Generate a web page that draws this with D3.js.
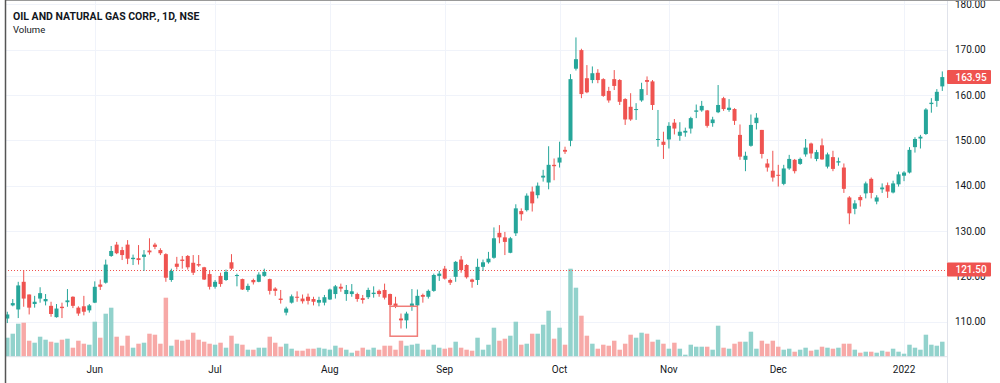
<!DOCTYPE html>
<html><head><meta charset="utf-8">
<script src="https://cdn.jsdelivr.net/npm/d3@7"></script>
<style>html,body{margin:0;padding:0;background:#fff;} svg{display:block;}</style>
</head><body>
<svg id="c" width="1000" height="383"></svg>
<script>
// ---- data (ONGC, daily, NSE) ----
const opens = [110.7,113.6,112.7,118.8,116.0,113.9,115.1,114.5,113.5,111.0,
113.3,114.3,115.5,113.1,113.4,112.5,114.2,118.2,118.6,124.5,
127.0,125.8,127.0,123.8,124.0,124.3,125.7,127.0,125.8,124.9,
119.2,122.8,123.7,124.5,123.0,122.7,122.0,120.5,117.7,120.1,
119.2,123.1,120.1,119.4,117.0,119.2,118.8,120.1,119.4,117.3,
115.1,112.0,114.2,115.5,115.1,115.5,115.0,114.2,114.2,114.9,
116.1,117.7,116.1,116.1,116.1,115.2,115.4,116.1,116.8,117.0,
116.1,114.0,110.7,110.3,113.4,113.6,115.9,115.5,116.8,120.1,
121.7,119.2,119.9,123.7,122.5,119.3,119.2,122.1,123.1,124.1,
129.6,128.6,125.2,129.5,134.4,134.6,138.7,137.9,141.8,140.7,
144.6,145.1,147.9,149.9,165.8,169.9,163.7,163.3,164.9,163.5,
160.9,163.5,163.3,159.1,157.4,156.7,158.8,163.3,163.0,150.1,
149.7,150.2,153.9,151.0,151.7,152.6,156.3,156.6,156.6,153.8,
156.2,159.3,156.7,156.9,151.2,145.7,148.8,153.8,152.3,144.9,
143.3,142.4,140.4,143.8,145.7,144.8,146.9,149.3,145.9,148.9,
144.2,146.3,145.1,144.0,137.4,134.9,137.5,138.3,141.5,136.5,
139.2,140.1,138.5,140.3,142.2,142.9,148.5,150.4,151.4,158.0,
158.7,161.9];
const highs = [112.2,115.0,118.8,121.4,116.0,115.7,117.6,116.1,114.4,113.9,
114.2,117.2,115.6,113.4,115.7,113.9,118.9,119.3,123.7,126.7,
127.6,126.5,128.0,124.8,126.9,125.8,128.4,127.4,126.2,125.1,
121.7,124.3,124.5,124.7,124.7,124.7,122.1,121.4,119.2,120.8,
121.5,124.9,120.6,119.5,118.4,119.5,120.9,121.7,119.5,117.6,
117.0,113.3,116.0,116.7,116.0,116.2,115.5,115.5,115.9,117.3,
118.1,118.4,118.1,118.3,116.4,115.9,117.5,117.8,117.1,118.4,
116.2,115.5,111.8,112.2,117.2,117.1,116.2,117.1,120.6,121.2,
122.3,119.5,123.4,124.5,122.7,119.5,123.9,123.7,125.4,130.8,
131.3,129.8,128.7,135.9,135.0,138.3,139.8,140.7,143.5,148.7,
146.0,149.7,148.6,164.6,172.7,170.2,166.6,166.3,165.7,163.7,
161.8,165.5,163.5,159.3,160.4,158.2,162.7,164.1,163.3,156.7,
151.9,154.0,154.7,154.0,152.8,155.2,157.9,158.7,156.7,155.2,
162.2,159.6,159.1,157.1,153.5,147.5,155.7,156.0,152.3,145.9,
147.7,144.6,144.6,146.8,145.9,146.2,150.3,149.5,147.9,150.4,
147.3,147.7,146.2,144.9,137.7,136.8,137.9,140.9,141.8,137.9,
140.5,140.7,141.1,143.1,143.2,148.5,150.7,151.2,157.1,159.3,
161.3,165.2];
const lows = [109.7,113.4,110.8,113.3,111.6,113.1,114.2,113.6,111.1,110.9,
110.8,113.3,113.0,111.3,111.4,112.0,114.1,117.0,118.4,124.3,
124.9,123.6,122.7,122.5,122.6,121.2,124.8,126.0,124.7,118.8,
118.8,121.5,121.7,121.5,120.3,122.1,119.2,117.1,117.3,117.7,
119.0,121.4,117.8,117.0,116.6,118.2,118.7,119.9,116.0,115.7,
114.0,111.4,114.0,114.4,114.0,113.8,113.6,113.4,113.6,114.8,
115.1,116.6,114.6,115.5,114.4,114.0,115.0,115.3,115.5,114.9,
113.3,113.0,108.5,108.5,112.4,113.3,114.2,115.1,116.6,119.0,
119.3,118.1,118.8,120.8,119.5,117.5,118.1,121.2,122.8,123.9,
127.3,124.7,125.1,128.9,132.3,134.3,134.3,137.2,140.9,139.2,
141.2,144.0,147.0,148.7,165.4,159.3,160.4,162.6,162.6,159.6,
158.3,161.1,157.8,153.4,154.3,154.5,158.5,160.0,156.7,148.6,
145.9,148.2,151.3,149.9,150.8,151.5,154.9,156.3,152.8,153.0,
156.0,156.5,156.3,153.4,145.7,143.2,148.6,152.4,146.0,143.1,
140.9,139.8,140.1,143.5,142.7,144.6,146.4,146.0,145.4,145.7,
143.8,143.2,144.4,138.4,131.5,133.7,135.4,137.2,137.2,135.9,
138.4,137.3,138.3,139.8,141.0,142.7,147.3,148.2,151.2,156.1,
157.4,160.9];
const closes = [111.6,114.1,118.0,115.1,113.1,114.4,116.3,115.0,111.7,112.9,
113.0,114.7,113.5,111.8,112.2,113.6,117.7,117.7,122.6,125.6,
125.1,124.7,123.9,124.1,123.6,124.8,125.3,126.5,125.1,119.7,
121.2,122.1,123.4,122.0,120.8,122.4,119.3,117.7,118.8,118.3,
121.0,121.7,120.3,117.1,117.9,118.7,120.4,121.0,116.8,116.8,
114.8,112.9,115.6,115.3,114.5,114.6,114.4,114.8,115.4,117.1,
117.8,117.3,117.0,116.7,115.0,114.8,117.0,116.4,116.1,115.3,
113.7,113.3,110.3,111.8,114.0,115.7,115.5,116.8,120.3,120.6,
119.5,118.6,123.2,121.4,119.8,118.8,122.1,123.1,123.9,128.4,
128.6,127.6,128.4,135.0,133.7,137.8,136.1,140.0,142.2,144.6,
144.3,146.2,147.5,163.5,167.9,160.2,160.6,164.8,163.3,159.8,
158.8,162.0,158.5,154.6,154.6,156.9,161.3,162.9,157.8,150.3,
149.0,153.2,152.6,151.9,152.1,154.9,156.6,157.6,153.2,154.6,
157.8,156.9,157.2,154.3,146.4,146.6,153.4,155.0,147.0,144.0,
141.8,142.2,143.8,145.9,143.2,145.9,148.4,147.1,147.4,145.8,
146.9,143.7,145.4,139.3,133.9,136.1,136.8,140.5,138.4,137.4,
139.6,138.7,140.5,142.5,142.9,147.9,150.3,150.8,156.8,158.3,
160.7,163.95];
const volumes = [19,23,33,34,16,14,20,17,15,14,
17,18,9,16,13,12,35,19,43,49,
20,11,21,9,13,14,23,22,13,59,
11,17,16,17,24,17,15,13,12,14,
9,21,13,12,7,7,9,9,20,14,
10,13,8,6,6,8,8,9,8,7,
11,9,7,4,6,9,7,9,7,11,
11,7,16,11,12,13,7,7,12,9,
8,9,15,9,7,6,19,7,12,29,
16,18,21,35,12,13,23,23,32,46,
18,29,12,88,69,41,21,13,8,12,
11,16,7,13,22,19,24,23,15,17,
13,8,14,8,2,12,10,10,10,7,
31,9,8,13,15,15,25,8,16,13,
16,10,7,8,5,7,9,6,7,10,
9,8,9,13,13,7,4,5,5,4,
6,5,8,5,3,12,9,7,22,12,
11,15];
const monthLabels = ["Jun","Jul","Aug","Sep","Oct","Nov","Dec","2022"];
const monthStartIndex = [16,38,59,80,101,121,141,164];
const priceTicks = [110,120,130,140,150,160,170,180];
const lastPrice = 163.95;
const markerPrice = 121.50;
const highlight = {from:70, to:75, top:113.4, bottom:106.8};

// ---- chart ----
const svg = d3.select("#c");
const up = "#26a69a", down = "#ef5350", volUp = "#92d2cc", volDown = "#f7a9a7";
const textCol = "#131722", grid = "#f0f3fa", axisCol = "#e0e3eb";
const plotL = 5, plotR = 947, volBase = 356.7;
const font = "Roboto, 'Noto Sans', sans-serif";

svg.append("rect").attr("width",1000).attr("height",383).attr("fill","#fff");

const n = opens.length;
const x = d3.scalePoint().domain(d3.range(n)).range([7.3, 942.3]);
const y = d3.scaleLinear().domain([110,160]).range([321.7,95]);
const yv = d3.scaleLinear().domain([0,100]).range([volBase, volBase-100]);

// grid
svg.append("g").selectAll("line").data(priceTicks).join("line")
  .attr("x1",plotL).attr("x2",plotR)
  .attr("y1",d=>Math.round(y(d))+0.5).attr("y2",d=>Math.round(y(d))+0.5)
  .attr("stroke",grid).attr("stroke-width",1);
svg.append("g").selectAll("line").data(monthStartIndex).join("line")
  .attr("x1",d=>Math.round(x(d))+0.5).attr("x2",d=>Math.round(x(d))+0.5)
  .attr("y1",0).attr("y2",volBase)
  .attr("stroke",grid).attr("stroke-width",1);

const idx = d3.range(n);
const isUp = i => closes[i] >= opens[i];

// volume
const vw = x.step() - 1;
svg.append("g").selectAll("rect").data(idx).join("rect")
  .attr("x",i=>x(i)-vw/2).attr("width",vw)
  .attr("y",i=>yv(volumes[i])).attr("height",i=>volBase-yv(volumes[i]))
  .attr("fill",i=>isUp(i)?volUp:volDown);

// marker dotted line
const my = Math.round(y(markerPrice))+0.5;
svg.append("line").attr("x1",plotL).attr("x2",plotR)
  .attr("y1",my).attr("y2",my)
  .attr("stroke",down).attr("stroke-width",1).attr("stroke-dasharray","1,2");

// candles
const bw = 4;
const cg = svg.append("g").selectAll("g").data(idx).join("g");
cg.append("rect")
  .attr("x",i=>x(i)-0.5).attr("width",1)
  .attr("y",i=>y(highs[i])).attr("height",i=>Math.max(1,y(lows[i])-y(highs[i])))
  .attr("fill",i=>isUp(i)?up:down);
cg.append("rect")
  .attr("x",i=>x(i)-bw/2).attr("width",bw)
  .attr("y",i=>y(Math.max(opens[i],closes[i])))
  .attr("height",i=>Math.max(1,Math.abs(y(opens[i])-y(closes[i]))))
  .attr("fill",i=>isUp(i)?up:down);

// highlight box
svg.append("rect")
  .attr("x",x(highlight.from)).attr("width",x(highlight.to)-x(highlight.from))
  .attr("y",y(highlight.top)).attr("height",y(highlight.bottom)-y(highlight.top))
  .attr("fill","none").attr("stroke","#f07c78").attr("stroke-width",1.5);

// axes lines
svg.append("line").attr("x1",plotL).attr("x2",plotR).attr("y1",volBase).attr("y2",volBase)
  .attr("stroke",axisCol);
svg.append("line").attr("x1",plotR+0.5).attr("x2",plotR+0.5).attr("y1",0).attr("y2",383)
  .attr("stroke",axisCol);

// price labels
svg.append("g").selectAll("text").data(priceTicks).join("text")
  .attr("x",955).attr("y",d=>y(d)).attr("dy","0.35em")
  .attr("font-family",font).attr("font-size",10).attr("fill",textCol)
  .text(d=>d.toFixed(2));

// time labels
svg.append("g").selectAll("text").data(monthStartIndex).join("text")
  .attr("x",d=>x(d)).attr("y",372.5).attr("text-anchor","middle")
  .attr("font-family",font).attr("font-size",10).attr("fill",textCol)
  .text((d,i)=>monthLabels[i]);

// value badges
[markerPrice,lastPrice].forEach(v=>{
  svg.append("rect").attr("x",plotR).attr("y",y(v)-7).attr("width",44).attr("height",14)
    .attr("rx",1).attr("fill",down);
  svg.append("text").attr("x",955.5).attr("y",y(v)).attr("dy","0.35em")
    .attr("font-family",font).attr("font-size",10).attr("font-weight",500).attr("fill","#fff")
    .text(v.toFixed(2));
});

// title
svg.append("text").attr("x",13).attr("y",19.5)
  .attr("font-family",font).attr("font-size",10.5).attr("font-weight",700).attr("fill",textCol)
  .text("OIL AND NATURAL GAS CORP., 1D, NSE");
svg.append("text").attr("x",13).attr("y",32.5)
  .attr("font-family",font).attr("font-size",9.5).attr("fill",textCol)
  .text("Volume");

// frame
svg.append("line").attr("x1",5).attr("x2",1000).attr("y1",0.5).attr("y2",0.5).attr("stroke","#9a9a9a");
svg.append("line").attr("x1",5.5).attr("x2",5.5).attr("y1",0).attr("y2",383).attr("stroke","#555").attr("stroke-width",1.5);
</script>
</body></html>
